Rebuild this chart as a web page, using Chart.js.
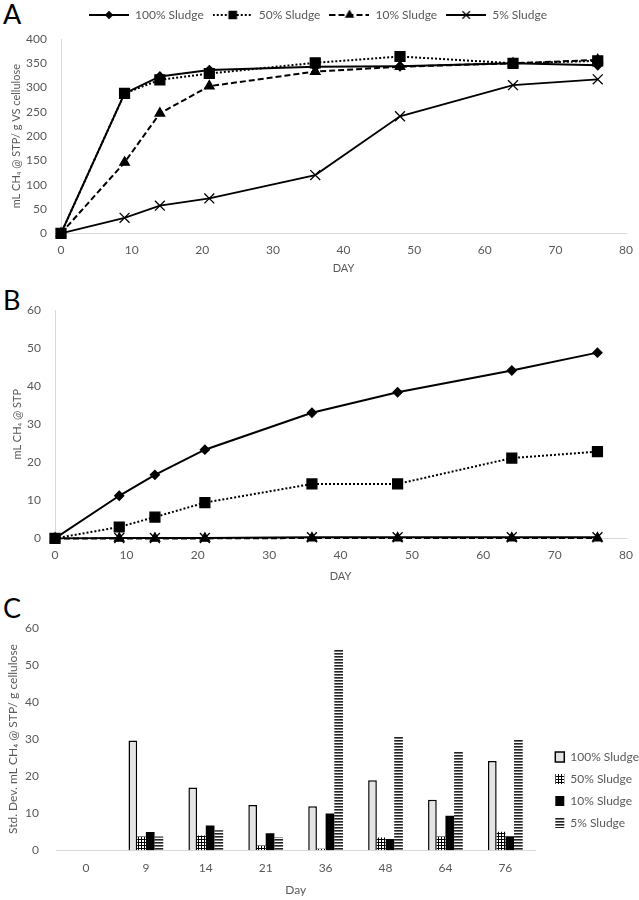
<!DOCTYPE html>
<html>
<head>
<meta charset="utf-8">
<script src="https://cdn.jsdelivr.net/npm/chart.js@4.4.0/dist/chart.umd.min.js"></script>
<style>
  body { margin: 0; background: #fff; width: 639px; height: 900px; position: relative; overflow: hidden; font-family: Lato, "Open Sans", sans-serif; }
  .panel { position: absolute; left: 0; width: 639px; }
  .tag { position: absolute; left: 3px; font-size: 27px; color: #000; line-height: 1; }
</style>
</head>
<body>
<div class="tag" style="top:0px">A</div>
<div class="tag" style="top:286px">B</div>
<div class="tag" style="top:594px">C</div>
<div class="panel" style="top:0;height:280px"><canvas id="chartA"></canvas></div>
<div class="panel" style="top:280px;height:306px"><canvas id="chartB"></canvas></div>
<div class="panel" style="top:590px;height:310px"><canvas id="chartC"></canvas></div>
<script>
// data
const days = [0, 9, 14, 21, 36, 48, 64, 76];
const dayLabels = ['0', '9', '14', '21', '36', '48', '64', '76'];
const seriesNames = ['100% Sludge', '50% Sludge', '10% Sludge', '5% Sludge'];

// A - specific methane yield, mL CH4 @ STP / g VS cellulose
const yield100 = [0, 288, 323, 336, 343, 344, 350, 346];
const yield50 = [0, 288, 316, 329, 351, 364, 350, 355];
const yield10 = [0, 146, 247, 303, 333, 343, 350, 357];
const yield5 = [0, 32, 57, 72, 120, 241, 305, 317];

// B - methane volume, mL CH4 @ STP
const vol100 = [0, 11.2, 16.7, 23.3, 33.0, 38.4, 44.1, 48.8];
const vol50 = [0, 3.0, 5.6, 9.4, 14.3, 14.3, 21.1, 22.8];
const vol10 = [0, 0, 0, 0, 0.1, 0.1, 0.1, 0.1];
const vol5 = [0, 0.1, 0.1, 0.1, 0.3, 0.3, 0.3, 0.3];

// C - std. dev.
const sd100 = [0, 29.6, 16.9, 12.2, 11.9, 18.9, 13.6, 24.1];
const sd50 = [0, 3.7, 4.0, 1.3, 0.4, 3.4, 3.7, 5.0];
const sd10 = [0, 4.9, 6.7, 4.6, 9.9, 3.0, 9.3, 3.8];
const sd5 = [0, 3.7, 5.4, 3.5, 54.2, 30.8, 26.8, 29.9];

Chart.defaults.font.family = 'Lato, "Open Sans", sans-serif';
Chart.defaults.color = '#595959';
Chart.defaults.animation = false;

const grey = '#d9d9d9';

// line styles per series
const styles = [
  { pointStyle: 'rectRot', radius: 4.5, dash: [], width: 2 },
  { pointStyle: 'rect', radius: 7, dash: [2, 2], width: 2 },
  { pointStyle: 'triangle', radius: 5.5, dash: [6, 3], width: 2 },
  { pointStyle: 'crossRot', radius: 7, dash: [], width: 1.8 }
];

function toXY(vals) {
  return days.map((d, i) => ({ x: d, y: vals[i] }));
}

function lineSets(list) {
  return list.map((vals, i) => ({
    label: seriesNames[i],
    data: toXY(vals),
    borderColor: '#000',
    backgroundColor: '#000',
    borderWidth: styles[i].width,
    borderDash: styles[i].dash,
    pointStyle: styles[i].pointStyle,
    pointRadius: styles[i].radius,
    pointBorderWidth: 1.3,
    pointBackgroundColor: '#000',
    pointBorderColor: '#000',
    tension: 0,
    clip: false
  }));
}

// legend sample: line with marker in the middle
function legendImage(i) {
  const c = document.createElement('canvas');
  c.width = 40; c.height = 14;
  const ctx = c.getContext('2d');
  ctx.strokeStyle = '#000';
  ctx.fillStyle = '#000';
  ctx.lineWidth = 2;
  ctx.setLineDash(styles[i].dash);
  ctx.beginPath();
  ctx.moveTo(0, 7); ctx.lineTo(40, 7);
  ctx.stroke();
  ctx.setLineDash([]);
  ctx.lineWidth = 1.3;
  Chart.helpers.drawPoint(ctx, { pointStyle: styles[i].pointStyle, radius: styles[i].radius * 0.75, rotation: 0, borderWidth: 1.3 }, 20, 7);
  return c;
}

const legendHeight = {
  id: 'legendHeight',
  beforeInit(chart) {
    const fit = chart.legend.fit;
    chart.legend.fit = function () {
      fit.call(this);
      this.height = chart.options.plugins.legendHeight.h;
    };
  }
};

function yWidth(w) { return function (s) { s.width = w; }; }

// A
new Chart(document.getElementById('chartA'), {
  type: 'line',
  data: { datasets: lineSets([yield100, yield50, yield10, yield5]) },
  plugins: [legendHeight],
  options: {
    responsive: true,
    maintainAspectRatio: false,
    layout: { padding: { left: 10, right: 13, top: 0, bottom: 5 } },
    plugins: {
      legendHeight: { h: 39 },
      tooltip: { enabled: false },
      legend: {
        position: 'top',
        labels: {
          usePointStyle: true,
          pointStyleWidth: 40,
          padding: 9,
          font: { size: 12 },
          color: '#595959',
          generateLabels(chart) {
            return Chart.defaults.plugins.legend.labels.generateLabels(chart).map((l, i) => {
              l.pointStyle = legendImage(i);
              return l;
            });
          }
        }
      }
    },
    scales: {
      x: {
        type: 'linear', min: 0, max: 80,
        grid: { display: false },
        border: { color: grey },
        ticks: { stepSize: 10, font: { size: 12 }, padding: 2 },
        title: { display: true, text: 'DAY', font: { size: 11 }, padding: { top: 2, bottom: 0 } }
      },
      y: {
        min: 0, max: 400,
        afterFit: yWidth(51),
        grid: { display: false },
        border: { color: grey },
        ticks: { stepSize: 50, font: { size: 12 }, padding: 6 },
        title: { display: true, text: 'mL CH₄ @ STP/ g VS cellulose', font: { size: 11 }, padding: 0 }
      }
    }
  }
});

// B
new Chart(document.getElementById('chartB'), {
  type: 'line',
  data: { datasets: lineSets([vol100, vol50, vol10, vol5]) },
  options: {
    responsive: true,
    maintainAspectRatio: false,
    layout: { padding: { left: 11, right: 13, top: 30, bottom: 3 } },
    plugins: { legend: { display: false }, tooltip: { enabled: false } },
    scales: {
      x: {
        type: 'linear', min: 0, max: 80,
        grid: { display: false },
        border: { color: grey },
        ticks: { stepSize: 10, font: { size: 12 }, padding: 2 },
        title: { display: true, text: 'DAY', font: { size: 11 }, padding: { top: 5, bottom: 0 } }
      },
      y: {
        min: 0, max: 60,
        afterFit: yWidth(44),
        grid: { display: false },
        border: { color: grey },
        ticks: { stepSize: 10, font: { size: 12 }, padding: 6 },
        title: { display: true, text: 'mL CH₄ @ STP', font: { size: 11 }, padding: 0 }
      }
    }
  }
});

// C - bar fills
function gridPattern() {
  const c = document.createElement('canvas');
  c.width = 3; c.height = 3;
  const ctx = c.getContext('2d');
  ctx.fillStyle = '#fff'; ctx.fillRect(0, 0, 3, 3);
  ctx.fillStyle = '#000';
  ctx.fillRect(0, 0, 3, 1);
  ctx.fillRect(0, 0, 1, 3);
  return c.getContext('2d').createPattern(c, 'repeat');
}
function stripePattern() {
  const c = document.createElement('canvas');
  c.width = 4; c.height = 3;
  const ctx = c.getContext('2d');
  ctx.fillStyle = '#fff'; ctx.fillRect(0, 0, 4, 3);
  ctx.fillStyle = '#222'; ctx.fillRect(0, 0, 4, 1);
  ctx.fillStyle = '#777'; ctx.fillRect(0, 1, 4, 1);
  return c.getContext('2d').createPattern(c, 'repeat');
}

const barFills = ['#e4e4e4', gridPattern(), '#000', stripePattern()];
const barBorders = [1.5, 0, 0, 0];

const shiftLegend = {
  id: 'shiftLegend',
  afterLayout(chart) {
    const o = chart.options.plugins.shiftLegend;
    chart.legend.top += o.dy;
    chart.legend.bottom += o.dy;
    chart.legend.left += o.dx;
    chart.legend.right += o.dx;
  }
};

new Chart(document.getElementById('chartC'), {
  type: 'bar',
  data: {
    labels: dayLabels,
    datasets: [sd100, sd50, sd10, sd5].map((vals, i) => ({
      label: seriesNames[i],
      data: vals,
      backgroundColor: barFills[i],
      borderColor: '#000',
      borderWidth: barBorders[i],
      borderSkipped: 'bottom',
      categoryPercentage: 0.58,
      barPercentage: 1.0
    }))
  },
  plugins: [shiftLegend],
  options: {
    responsive: true,
    maintainAspectRatio: false,
    layout: { padding: { left: 0, right: 0, top: 38, bottom: 3 } },
    plugins: {
      shiftLegend: { dy: 113, dx: 10 },
      tooltip: { enabled: false },
      legend: {
        position: 'right',
        align: 'start',
        labels: {
          boxWidth: 9,
          boxHeight: 10,
          padding: 10,
          font: { size: 12 },
          color: '#595959'
        }
      }
    },
    scales: {
      x: {
        grid: { display: false },
        border: { color: grey },
        ticks: { font: { size: 12 }, padding: 3 },
        title: { display: true, text: 'Day', font: { size: 12 }, padding: { top: 4, bottom: 0 } }
      },
      y: {
        min: 0, max: 60,
        afterFit: yWidth(56),
        grid: { display: false },
        border: { display: false },
        ticks: { stepSize: 10, font: { size: 12 }, padding: 9 },
        title: { display: true, text: 'Std. Dev. mL CH₄ @ STP/ g cellulose', font: { size: 12 }, padding: { top: 6, bottom: 0 } }
      }
    }
  }
});
</script>
</body>
</html>
